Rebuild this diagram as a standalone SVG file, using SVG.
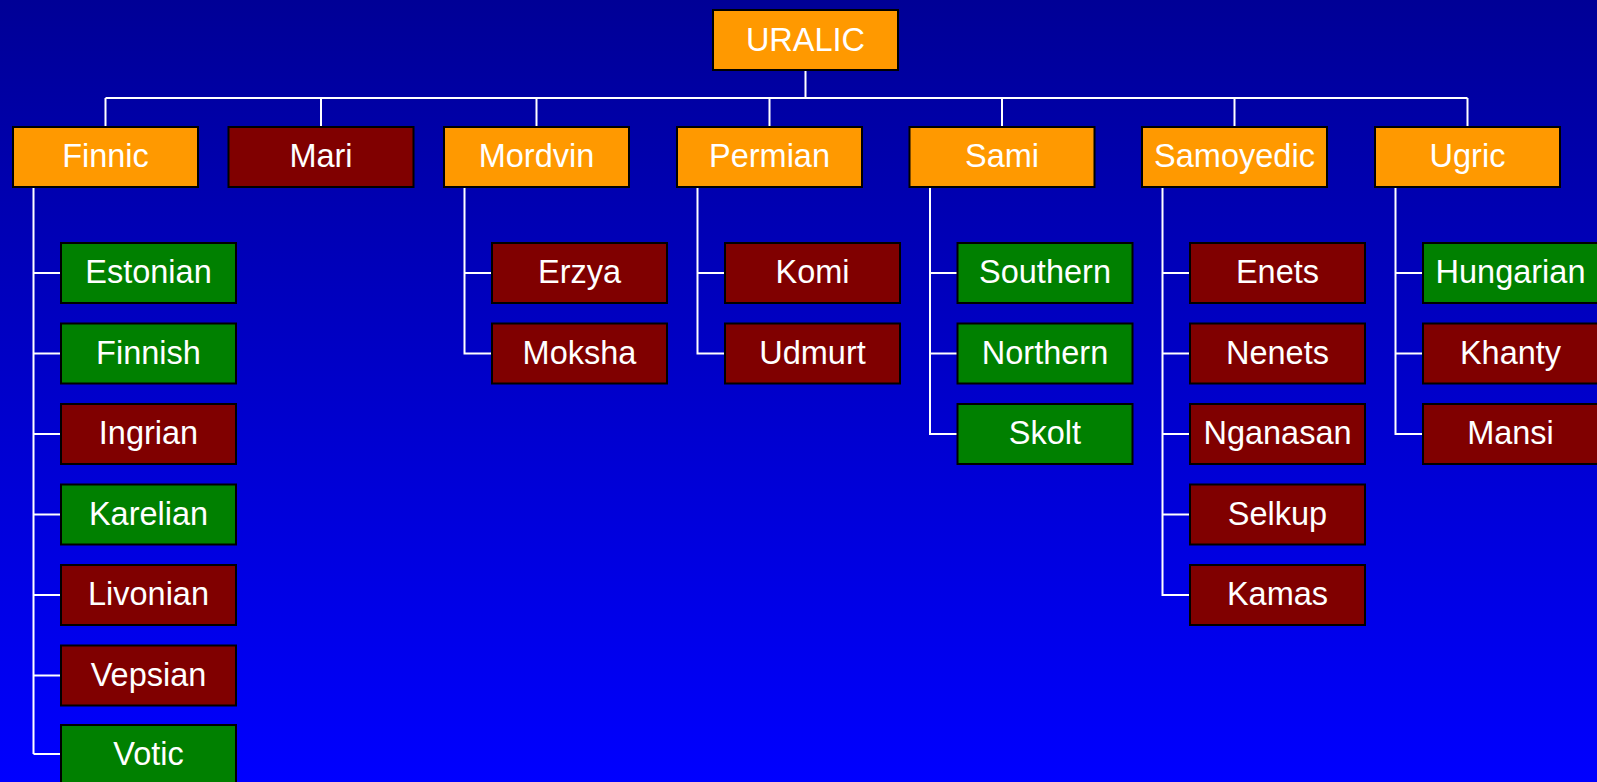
<svg xmlns="http://www.w3.org/2000/svg" width="1597" height="782" viewBox="0 0 1597 782">
<defs>
<linearGradient id="bg" x1="0" y1="0" x2="0" y2="1">
<stop offset="0" stop-color="#000096"/>
<stop offset="1" stop-color="#0000FF"/>
</linearGradient>
<style>
.b{stroke:#000;stroke-width:2}
.o{fill:#FF9900}
.r{fill:#800000}
.g{fill:#008000}
text{font-family:"Liberation Sans",Arial,sans-serif;font-size:32.5px;fill:#fff;text-anchor:middle}
.c{stroke:#fff;stroke-width:2;fill:none}
</style>
</defs>
<rect width="1597" height="782" fill="url(#bg)"/>
<g id="connectors" class="c">
<path d="M805.5 71V98M105.5 98H1467.5M105.5 98V126M321 98V126M536.5 98V126M769.5 98V126M1002 98V126M1234.5 98V126M1467.5 98V126"/>
<path d="M33.5 188V754M33.5 273H60.5M33.5 353.5H60.5M33.5 434H60.5M33.5 514.5H60.5M33.5 595H60.5M33.5 675.5H60.5M33.5 754H60.5"/>
<path d="M464.5 188V353.5H491.5M464.5 273H491.5"/>
<path d="M697.5 188V353.5H724.5M697.5 273H724.5"/>
<path d="M930 188V434H957M930 273H957M930 353.5H957"/>
<path d="M1162.5 188V595H1189.5M1162.5 273H1189.5M1162.5 353.5H1189.5M1162.5 434H1189.5M1162.5 514.5H1189.5"/>
<path d="M1395.5 188V434H1422.5M1395.5 273H1422.5M1395.5 353.5H1422.5"/>
</g>
<g id="uralic"><rect class="b o" x="713" y="10" width="185" height="60"/><text x="805.5" y="51">URALIC</text></g>
<g id="finnic"><rect class="b o" x="13" y="127" width="185" height="60"/><text x="105.5" y="167">Finnic</text></g>
<g id="mari"><rect class="b r" x="228.5" y="127" width="185" height="60"/><text x="321" y="167">Mari</text></g>
<g id="mordvin"><rect class="b o" x="444" y="127" width="185" height="60"/><text x="536.5" y="167">Mordvin</text></g>
<g id="permian"><rect class="b o" x="677" y="127" width="185" height="60"/><text x="769.5" y="167">Permian</text></g>
<g id="sami"><rect class="b o" x="909.5" y="127" width="185" height="60"/><text x="1002" y="167">Sami</text></g>
<g id="samoyedic"><rect class="b o" x="1142" y="127" width="185" height="60"/><text x="1234.5" y="167">Samoyedic</text></g>
<g id="ugric"><rect class="b o" x="1375" y="127" width="185" height="60"/><text x="1467.5" y="167">Ugric</text></g>

<g id="estonian"><rect class="b g" x="61" y="243" width="175" height="60"/><text x="148.5" y="283">Estonian</text></g>
<g id="finnish"><rect class="b g" x="61" y="323.5" width="175" height="60"/><text x="148.5" y="363.5">Finnish</text></g>
<g id="ingrian"><rect class="b r" x="61" y="404" width="175" height="60"/><text x="148.5" y="444">Ingrian</text></g>
<g id="karelian"><rect class="b g" x="61" y="484.5" width="175" height="60"/><text x="148.5" y="524.5">Karelian</text></g>
<g id="livonian"><rect class="b r" x="61" y="565" width="175" height="60"/><text x="148.5" y="605">Livonian</text></g>
<g id="vepsian"><rect class="b r" x="61" y="645.5" width="175" height="60"/><text x="148.5" y="685.5">Vepsian</text></g>
<g id="votic"><rect class="b g" x="61" y="725" width="175" height="60"/><text x="148.5" y="765">Votic</text></g>

<g id="erzya"><rect class="b r" x="492" y="243" width="175" height="60"/><text x="579.5" y="283">Erzya</text></g>
<g id="moksha"><rect class="b r" x="492" y="323.5" width="175" height="60"/><text x="579.5" y="363.5">Moksha</text></g>

<g id="komi"><rect class="b r" x="725" y="243" width="175" height="60"/><text x="812.5" y="283">Komi</text></g>
<g id="udmurt"><rect class="b r" x="725" y="323.5" width="175" height="60"/><text x="812.5" y="363.5">Udmurt</text></g>

<g id="southern"><rect class="b g" x="957.5" y="243" width="175" height="60"/><text x="1045" y="283">Southern</text></g>
<g id="northern"><rect class="b g" x="957.5" y="323.5" width="175" height="60"/><text x="1045" y="363.5">Northern</text></g>
<g id="skolt"><rect class="b g" x="957.5" y="404" width="175" height="60"/><text x="1045" y="444">Skolt</text></g>

<g id="enets"><rect class="b r" x="1190" y="243" width="175" height="60"/><text x="1277.5" y="283">Enets</text></g>
<g id="nenets"><rect class="b r" x="1190" y="323.5" width="175" height="60"/><text x="1277.5" y="363.5">Nenets</text></g>
<g id="nganasan"><rect class="b r" x="1190" y="404" width="175" height="60"/><text x="1277.5" y="444">Nganasan</text></g>
<g id="selkup"><rect class="b r" x="1190" y="484.5" width="175" height="60"/><text x="1277.5" y="524.5">Selkup</text></g>
<g id="kamas"><rect class="b r" x="1190" y="565" width="175" height="60"/><text x="1277.5" y="605">Kamas</text></g>

<g id="hungarian"><rect class="b g" x="1423" y="243" width="175" height="60"/><text x="1510.5" y="283">Hungarian</text></g>
<g id="khanty"><rect class="b r" x="1423" y="323.5" width="175" height="60"/><text x="1510.5" y="363.5">Khanty</text></g>
<g id="mansi"><rect class="b r" x="1423" y="404" width="175" height="60"/><text x="1510.5" y="444">Mansi</text></g>
</svg>
